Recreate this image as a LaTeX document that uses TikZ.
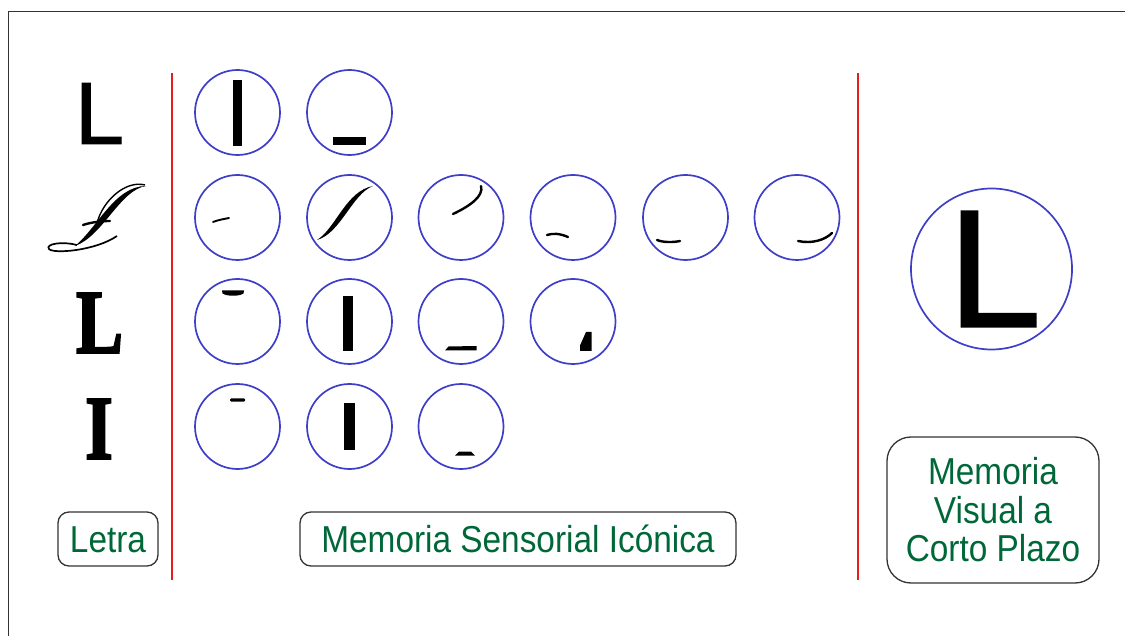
\documentclass[tikz,border=0pt]{standalone}
\usepackage{fontspec}
\newfontfamily\labelfont[FakeStretch=0.89]{Liberation Sans}
\newfontfamily\sansglyph[FakeBold=1.2]{Liberation Sans}
\newfontfamily\serifglyph[FakeBold=2.5]{Liberation Serif}
\definecolor{labelgreen}{RGB}{0,104,56}
\definecolor{ringblue}{RGB}{62,62,200}
\definecolor{divred}{RGB}{228,30,30}

\begin{document}
\begin{tikzpicture}[x=1pt,y=-1pt,
  ring/.style={circle,draw=ringblue,line width=1.7pt,minimum size=85pt,inner sep=0pt},
  bigring/.style={circle,draw=ringblue,line width=1.7pt,minimum size=161pt,inner sep=0pt},
  divider/.style={draw=divred,line width=2pt},
  tag/.style={draw=black!80,line width=1.3pt,rounded corners=11pt,text=labelgreen,
    font=\labelfont\fontsize{37.5}{38.5}\selectfont,inner sep=0pt},
  pen/.style={draw=black,line width=2.4pt,line cap=round},
  glyph/.style={inner sep=0pt,text=black}]

\useasboundingbox (0,0) rectangle (1125,636);

% frame
\draw[black!80,line width=1.6pt] (8.5,640) -- (8.5,11.5) -- (1130,11.5);

% dividers
\coordinate (d1top) at (172,73);
\coordinate (d1bot) at (172,580);
\coordinate (d2top) at (858,73);
\coordinate (d2bot) at (858,580);
\draw[divider] (d1top) -- (d1bot);
\draw[divider] (d2top) -- (d2bot);

% letters
\node[glyph,font=\sansglyph\fontsize{88}{88}\selectfont] (g1) at (99.5,113.5) {L};
\node[glyph,font=\serifglyph\bfseries\fontsize{90.6}{91}\selectfont] (g3) at (99.5,323) {\scalebox{0.78}[1]{L}};
\node[glyph,font=\serifglyph\bfseries\fontsize{90.6}{91}\selectfont] (g4) at (99,429) {\scalebox{0.78}[1]{I}};

% script L
\draw[line width=2.4pt,line cap=round] (83,225) .. controls (92,222) and (102,221) .. (110,221);
\fill (75,246) .. controls (103,236) and (120,190) .. (146,186)
      .. controls (115,186) and (97,228) .. (75,246) -- cycle;
\draw[line width=1.4pt] (97,223) .. controls (103,200) and (126,180) .. (145,185);
\draw[line width=1.7pt] (77,245) .. controls (62,241) and (45,244) .. (49,249)
      .. controls (53,254) and (95,251) .. (117,236);

% rings, row 1
\foreach \c/\x in {1/237.5,2/349.5}
  \node[ring] (r1c\c) at (\x,112.5) {};
% rings, row 2
\foreach \c/\x in {1/237.5,2/349.5,3/461,4/573,5/685.5,6/797}
  \node[ring] (r2c\c) at (\x,217.5) {};
% rings, row 3
\foreach \c/\x in {1/237.5,2/349.5,3/461,4/573}
  \node[ring] (r3c\c) at (\x,321.5) {};
% rings, row 4
\foreach \c/\x in {1/237.5,2/349.5,3/461}
  \node[ring] (r4c\c) at (\x,426.5) {};

% strokes, row 1
\fill (233,80) rectangle (242,146);
\fill (333,137) rectangle (366,145);

% strokes, row 2
\draw[pen,line width=1.9pt] (213,222) .. controls (218,220) and (224,219) .. (229,218);
\fill (317,240) .. controls (341,233) and (352,194) .. (373,186)
      .. controls (346,191) and (336,228) .. (317,240) -- cycle;
\draw[pen] (453,214) .. controls (470,206) and (484,196) .. (481,186);
\draw[pen] (547,235) .. controls (553,233) and (560,233.5) .. (568,237);
\draw[pen] (657,240) .. controls (663,242.5) and (673,242.5) .. (680,241);
\draw[pen] (798,241) .. controls (812,244) and (825,240) .. (832,233);

% strokes, row 3
\fill (222,290.5) -- (244,290.5) -- (243.5,293.5) .. controls (239,296.5) and (227,296.5) .. (222.5,293.5) -- cycle;
\fill (343,296) rectangle (353,351);
\fill (445,350.5) -- (448.5,346.5) -- (476.5,346) -- (476.5,350.5) -- cycle;
\fill (580,351) -- (580,345.5) -- (586,332) -- (591.5,332) -- (591.5,351) -- cycle;

% strokes, row 4
\fill[rounded corners=1.2pt] (230,398.3) rectangle (245,401.7);
\fill (343.5,403.3) rectangle (354.5,450);
\fill (455,455.7) -- (459,451.7) -- (471,451.7) -- (475,455.7) -- cycle;

% short-term store
\node[bigring] (stm) at (991.5,269) {};
\node[glyph,font=\sansglyph\fontsize{167.6}{168}\selectfont] (bigL) at (994.5,269) {L};

% labels
\node[tag,minimum width=100pt,minimum height=54pt,text height=27pt,text depth=0pt] (letra) at (108,539) {Letra};
\node[tag,minimum width=436pt,minimum height=54pt,text height=27pt,text depth=0pt] (msi) at (518,539) {Memoria Sensorial Icónica};
\node[tag,rounded corners=24pt,minimum width=212pt,minimum height=146pt,align=center] (mvcp) at (993,510) {Memoria\\Visual a\\Corto Plazo};

\end{tikzpicture}
\end{document}
